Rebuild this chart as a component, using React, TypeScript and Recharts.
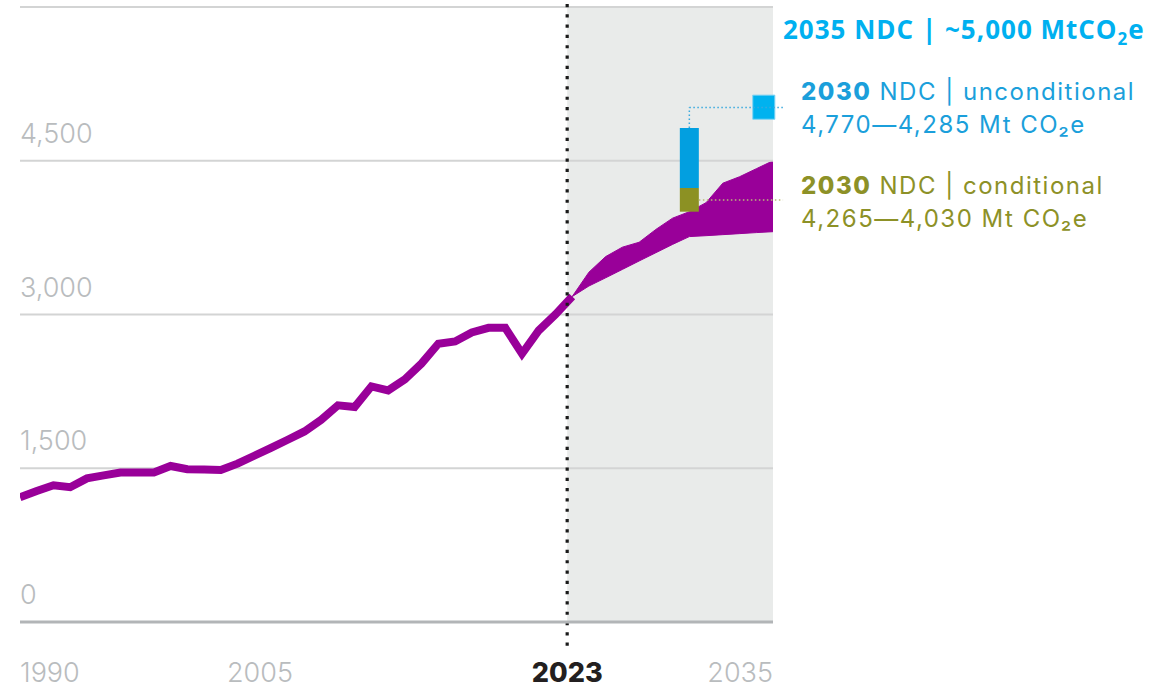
import React from 'react';
import { ComposedChart, Line, Area, XAxis, YAxis, ReferenceArea, ReferenceLine } from 'recharts';

// ---- data ----
const histYears = [1990, 1991, 1992, 1993, 1994, 1995, 1996, 1997, 1998, 1999, 2000, 2001, 2002, 2003, 2004, 2005, 2006, 2007, 2008, 2009, 2010, 2011, 2012, 2013, 2014, 2015, 2016, 2017, 2018, 2019, 2020, 2021, 2022, 2023];
const histValues = [1217, 1278, 1334, 1315, 1401, 1431, 1458, 1458, 1458, 1522, 1490, 1488, 1483, 1545, 1622, 1698, 1778, 1859, 1973, 2114, 2097, 2299, 2260, 2367, 2523, 2715, 2737, 2825, 2870, 2870, 2617, 2844, 3000, 3175];

const bandYears = [2023, 2024, 2025, 2026, 2027, 2028, 2029, 2030, 2031, 2032, 2033, 2034, 2035];
const bandLow = [3175, 3278, 3358, 3440, 3522, 3603, 3684, 3760, 3769, 3779, 3789, 3799, 3808];
const bandHigh = [3175, 3413, 3565, 3657, 3705, 3830, 3940, 4003, 4091, 4281, 4344, 4422, 4500];

const yTicks = [0, 1500, 3000, 4500, 6000];
const yTickLabels = ['0', '1,500', '3,000', '4,500', ''];
const xTicks = [1990, 2005, 2023, 2035];
const xTickLabels = ['1990', '2005', '2023', '2035'];

const currentYearMarker = 2022.7;
const projectionEnd = 2035;
const ndc2030Year = 2030;
const ndc2030Unconditional = [4234, 4820];
const ndc2030Conditional = [4003, 4234];
const ndc2030ConditionalLink = 4117;
const ndc2035Year = 2034.45;
const ndc2035Value = 5020;

// ---- table for the library ----
const allYears = Array.from(new Set([...histYears, ...bandYears])).sort((a, b) => a - b);
const table = allYears.map((year) => {
  const hi = histYears.indexOf(year);
  const bi = bandYears.indexOf(year);
  return {
    year,
    hist: hi >= 0 ? histValues[hi] : null,
    band: bi >= 0 ? [bandLow[bi], bandHigh[bi]] : null,
  };
});

const PURPLE = '#990099';
const TICK_GRAY = '#b9bcbe';
const FONT = 'Inter, "Open Sans", sans-serif';

const XTick = (props: any) => {
  const { x, y, payload } = props;
  const idx = xTicks.indexOf(payload.value);
  const label = idx >= 0 ? xTickLabels[idx] : '';
  const last = xTicks.length - 1;
  const anchor = idx === 0 ? 'start' : idx === last ? 'end' : 'middle';
  const bold = payload.value === 2023;
  const dx = payload.value === 2005 ? -11 : payload.value === 2023 ? -5 : 0;
  return (
    <text
      x={x + dx}
      y={y + 60}
      textAnchor={anchor}
      fill={bold ? '#231f20' : TICK_GRAY}
      fontSize={27}
      fontWeight={bold ? 800 : 300}
      fontFamily={FONT}
    >
      {label}
    </text>
  );
};

const makeYLabel = (text: string) => (p: any) => {
  const vb = p.viewBox || {};
  if (!text) return null;
  return (
    <text x={vb.x} y={vb.y - 18} textAnchor="start" fill={TICK_GRAY} fontSize={27} fontWeight={300} fontFamily={FONT}>
      {text}
    </text>
  );
};

const half = 0.57;
const labelStyle = { fontSize: 24, letterSpacing: 1.5, fontFamily: FONT } as const;

export default function App() {
  return (
    <div style={{ position: 'absolute', left: 0, top: 0, width: 1153, height: 688, background: '#fff' }}>
      <ComposedChart
        width={1153}
        height={688}
        data={table}
        margin={{ top: 7, right: 380, bottom: 0, left: 20 }}
        style={{ overflow: 'visible' }}
      >
        <XAxis
          type="number"
          dataKey="year"
          domain={[1990, 2035]}
          ticks={xTicks}
          height={66}
          tickSize={0}
          tickMargin={0}
          tickLine={false}
          axisLine={{ stroke: '#b2b5b7', strokeWidth: 3 }}
          tick={<XTick />}
          allowDataOverflow
        />
        <YAxis
          type="number"
          domain={[0, 6000]}
          ticks={yTicks}
          width={0}
          axisLine={false}
          tickLine={false}
          tick={false}
          allowDataOverflow
        />
        <ReferenceArea
          x1={currentYearMarker}
          x2={projectionEnd}
          y1={0}
          y2={6000}
          fill="#e9ebea"
          fillOpacity={1}
          stroke="none"
          ifOverflow="visible"
        />
        {yTicks.map((t, i) => (
          <ReferenceLine
            key={t}
            y={t}
            stroke={t === 0 ? 'none' : '#d3d4d4'}
            strokeWidth={2}
            label={makeYLabel(yTickLabels[i])}
            ifOverflow="visible"
          />
        ))}
        <Area
          type="linear"
          dataKey="band"
          fill={PURPLE}
          fillOpacity={1}
          stroke={PURPLE}
          strokeWidth={1}
          isAnimationActive={false}
          dot={false}
          activeDot={false}
        />
        <Line
          type="linear"
          dataKey="hist"
          stroke={PURPLE}
          strokeWidth={8}
          dot={false}
          activeDot={false}
          isAnimationActive={false}
        />
        <ReferenceLine
          segment={[{ x: ndc2030Year, y: ndc2030Unconditional[0] }, { x: ndc2030Year, y: ndc2030Unconditional[1] }]}
          stroke="#029fe0"
          strokeWidth={19}
          ifOverflow="visible"
        />
        <ReferenceLine
          segment={[{ x: ndc2030Year, y: ndc2030Conditional[0] }, { x: ndc2030Year, y: ndc2030Conditional[1] }]}
          stroke="#8c9123"
          strokeWidth={19}
          ifOverflow="visible"
        />
        <ReferenceLine
          segment={[{ x: ndc2030Year, y: ndc2030Unconditional[1] }, { x: ndc2030Year, y: ndc2035Value }]}
          stroke="#3aa9de"
          strokeWidth={1.5}
          strokeDasharray="1.5 2.5"
          ifOverflow="visible"
        />
        <ReferenceLine
          segment={[{ x: ndc2030Year, y: ndc2035Value }, { x: 2035.6, y: ndc2035Value }]}
          stroke="#3aa9de"
          strokeWidth={1.5}
          strokeDasharray="1.5 2.5"
          ifOverflow="visible"
        />
        <ReferenceLine
          segment={[{ x: ndc2030Year + half, y: ndc2030ConditionalLink }, { x: 2035.6, y: ndc2030ConditionalLink }]}
          stroke="#b9bb7a"
          strokeWidth={1.5}
          strokeDasharray="1.5 2.5"
          ifOverflow="visible"
        />
        <ReferenceArea
          x1={ndc2035Year - 0.66}
          x2={ndc2035Year + 0.66}
          y1={ndc2035Value - 115}
          y2={ndc2035Value + 120}
          fill="#00b2ef"
          fillOpacity={1}
          stroke="#7fd3f3"
          strokeWidth={1}
          ifOverflow="visible"
        />
        <ReferenceLine
          segment={[{ x: currentYearMarker, y: 6030 }, { x: currentYearMarker, y: -262 }]}
          stroke="#1a1a1a"
          strokeWidth={3.2}
          strokeDasharray="3.2 7.1"
          ifOverflow="visible"
        />
      </ComposedChart>
      <svg
        width={1153}
        height={688}
        style={{ position: 'absolute', left: 0, top: 0, pointerEvents: 'none' }}
      >
        <text x={783} y={39} fill="#00b0f0" fontSize={26} fontWeight={700} letterSpacing={1} fontFamily='"Open Sans", sans-serif'>
          2035 NDC | ~5,000 MtCO
          <tspan fontSize={17} dy={6}>2</tspan>
          <tspan dy={-6}>e</tspan>
        </text>
        <text x={801} y={100} fill="#1b9fdb" {...labelStyle}>
          <tspan fontWeight={800}>2030</tspan> NDC | unconditional
        </text>
        <text x={801} y={133} fill="#1b9fdb" {...labelStyle}>
          4,770—4,285 Mt CO₂e
        </text>
        <text x={801} y={194} fill="#8d9127" {...labelStyle}>
          <tspan fontWeight={800}>2030</tspan> NDC | conditional
        </text>
        <text x={801} y={227} fill="#8d9127" {...labelStyle}>
          4,265—4,030 Mt CO₂e
        </text>
      </svg>
    </div>
  );
}
